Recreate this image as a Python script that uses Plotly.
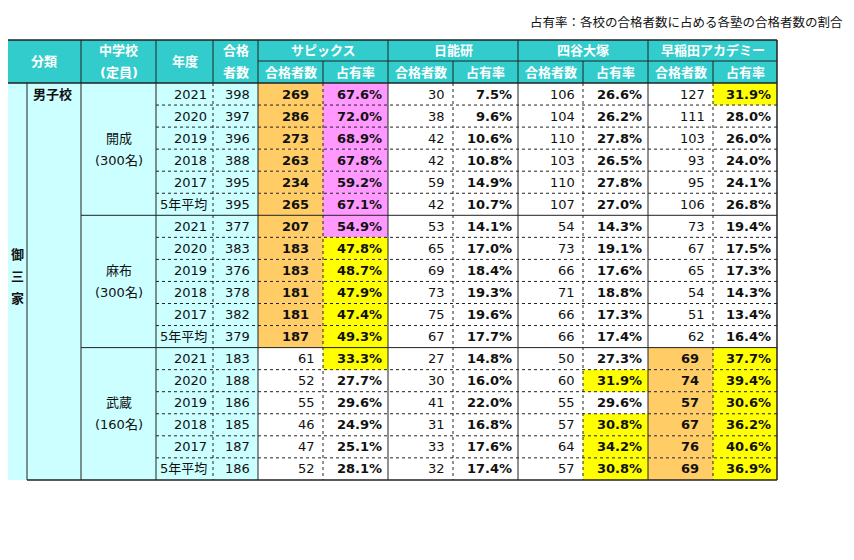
import plotly.graph_objects as go

schools = ["開成", "麻布", "武蔵"]
capacity = ["(300名)", "(300名)", "(160名)"]
years = ["2021", "2020", "2019", "2018", "2017", "5年平均"]
total = [[398, 397, 396, 388, 395, 395], [377, 383, 376, 378, 382, 379], [183, 188, 186, 185, 187, 186]]
juku = ["サピックス", "日能研", "四谷大塚", "早稲田アカデミー"]
cnt = {
    "サピックス": [[269, 286, 273, 263, 234, 265], [207, 183, 183, 181, 181, 187], [61, 52, 55, 46, 47, 52]],
    "日能研": [[30, 38, 42, 42, 59, 42], [53, 65, 69, 73, 75, 67], [27, 30, 41, 31, 33, 32]],
    "四谷大塚": [[106, 104, 110, 103, 110, 107], [54, 73, 66, 71, 66, 66], [50, 60, 55, 57, 64, 57]],
    "早稲田アカデミー": [[127, 111, 103, 93, 95, 106], [73, 67, 65, 54, 51, 62], [69, 74, 57, 67, 76, 69]],
}
rate = {
    "サピックス": [["67.6%", "72.0%", "68.9%", "67.8%", "59.2%", "67.1%"], ["54.9%", "47.8%", "48.7%", "47.9%", "47.4%", "49.3%"], ["33.3%", "27.7%", "29.6%", "24.9%", "25.1%", "28.1%"]],
    "日能研": [["7.5%", "9.6%", "10.6%", "10.8%", "14.9%", "10.7%"], ["14.1%", "17.0%", "18.4%", "19.3%", "19.6%", "17.7%"], ["14.8%", "16.0%", "22.0%", "16.8%", "17.6%", "17.4%"]],
    "四谷大塚": [["26.6%", "26.2%", "27.8%", "26.5%", "27.8%", "27.0%"], ["14.3%", "19.1%", "17.6%", "18.8%", "17.3%", "17.4%"], ["27.3%", "31.9%", "29.6%", "30.8%", "34.2%", "30.8%"]],
    "早稲田アカデミー": [["31.9%", "28.0%", "26.0%", "24.0%", "24.1%", "26.8%"], ["19.4%", "17.5%", "17.3%", "14.3%", "13.4%", "16.4%"], ["37.7%", "39.4%", "30.6%", "36.2%", "40.6%", "36.9%"]],
}

TEAL = "#33CCCC"; CYAN = "#CCFFFF"; ORANGE = "#FFCC66"; PINK = "#FF99FF"; YEL = "#FFFF00"
FONT = "DejaVu Sans, Noto Sans CJK JP"
cx = [7, 27, 81, 156, 213, 258, 323, 388, 453, 518, 583, 648, 713, 777]
H0, H1, B0 = 40, 61, 83
RH = 22.05
NR = 18

shapes = []; ann = []
def rect(x0, y0, x1, y1, fill):
    shapes.append(dict(type="rect", x0=x0, x1=x1, y0=y0, y1=y1, fillcolor=fill, line=dict(width=0), layer="below"))
def line(x0, y0, x1, y1, dash="solid", w=1, color="#222"):
    shapes.append(dict(type="line", x0=x0, x1=x1, y0=y0, y1=y1, line=dict(color=color, width=w, dash=dash)))
def text(x, y, s, anchor="center", bold=False, color="#111", size=13):
    ann.append(dict(x=x, y=y, text=f"<b>{s}</b>" if bold else s, showarrow=False, xanchor=anchor, yanchor="middle",
                    font=dict(family=FONT, size=size, color=color)))

yb = B0 + NR * RH
rect(cx[0], H0, cx[-1], B0, TEAL)
rect(cx[0], B0, cx[5], yb, CYAN)
text(7, 22, "塾の合格実績（2017年度～2021年度）御三家(すべて2月1日受験)", "left", True, "#111", 14)
text(845, 22, "占有率：各校の合格者数に占める各塾の合格者数の割合", "right", False, "#111", 12.5)
W = "white"
text((cx[0] + cx[2]) / 2, (H0 + B0) / 2, "分類", bold=True, color=W)
text((cx[2] + cx[3]) / 2, (H0 + H1) / 2, "中学校", bold=True, color=W)
text((cx[2] + cx[3]) / 2, (H1 + B0) / 2, "(定員)", bold=True, color=W)
text((cx[3] + cx[4]) / 2, (H0 + B0) / 2, "年度", bold=True, color=W)
text((cx[4] + cx[5]) / 2, (H0 + H1) / 2, "合格", bold=True, color=W)
text((cx[4] + cx[5]) / 2, (H1 + B0) / 2, "者数", bold=True, color=W)
for j, name in enumerate(juku):
    a, b, c = cx[5 + 2 * j], cx[6 + 2 * j], cx[7 + 2 * j]
    text((a + c) / 2, (H0 + H1) / 2, name, bold=True, color=W)
    text((a + b) / 2, (H1 + B0) / 2, "合格者数", bold=True, color=W)
    text((b + c) / 2, (H1 + B0) / 2, "占有率", bold=True, color=W)

def hl(jk, s, r, kind):
    if jk == "サピックス":
        if kind == "c":
            return ORANGE if s < 2 else None
        if s == 0 or (s == 1 and r == 0):
            return PINK
        if s == 1 or (s == 2 and r == 0):
            return YEL
    if jk == "四谷大塚" and kind == "r" and s == 2 and r in (1, 3, 4, 5):
        return YEL
    if jk == "早稲田アカデミー":
        if kind == "c" and s == 2:
            return ORANGE
        if kind == "r" and (s == 2 or (s == 0 and r == 0)):
            return YEL
    return None

for s in range(3):
    for r in range(6):
        i = s * 6 + r
        y0 = B0 + i * RH; y1 = y0 + RH; ym = (y0 + y1) / 2
        if r == 5:
            text(cx[3] + 2, ym, years[r], "left")
        else:
            text(cx[4] - 4, ym, years[r], "right")
        text(cx[5] - 6, ym, str(total[s][r]), "right")
        for j, jk in enumerate(juku):
            a, b, c = cx[5 + 2 * j], cx[6 + 2 * j], cx[7 + 2 * j]
            fc = hl(jk, s, r, "c"); fr = hl(jk, s, r, "r")
            if fc: rect(a, y0, b, y1, fc)
            if fr: rect(b, y0, c, y1, fr)
            text(b - 12 if fc else b - 6, ym, str(cnt[jk][s][r]), "right", bold=bool(fc))
            text(c - 4, ym, rate[jk][s][r], "right", bold=True)
        if r < 5:
            line(cx[3], y1, cx[-1], y1, "dot", 1)
    ys = B0 + s * 6 * RH
    text((cx[2] + cx[3]) / 2, ys + 2.5 * RH, schools[s])
    text((cx[2] + cx[3]) / 2, ys + 3.5 * RH, capacity[s])
    if s > 0:
        line(cx[2], ys, cx[-1], ys)
text(cx[1] + 4, B0 + RH / 2, "男子校", "left", True)
for k, ch in enumerate("御三家"):
    text((cx[0] + cx[1]) / 2, B0 + 7.8 * RH + k * 22, ch, bold=True)

line(cx[0], H0, cx[-1], H0, w=1.5)
line(cx[5], H1, cx[-1], H1)
line(cx[0], B0, cx[-1], B0, w=1.5)
line(cx[1], yb, cx[-1], yb, w=1.5)
for x in [cx[0], cx[-1]]:
    line(x, H0, x, yb, w=1.5)
for x in [cx[2], cx[3], cx[4], cx[5], cx[7], cx[9], cx[11]]:
    line(x, H0, x, B0)
for x in [cx[6], cx[8], cx[10], cx[12]]:
    line(x, H1, x, B0)
line(cx[1], B0, cx[1], yb)
line(cx[2], B0, cx[2], yb)
line(cx[3], B0, cx[3], yb)
line(cx[4], B0, cx[4], yb, "dot")
for x in [cx[5], cx[7], cx[9], cx[11]]:
    line(x, B0, x, yb)
for x in [cx[6], cx[8], cx[10], cx[12]]:
    line(x, B0, x, yb, "dot")

fig = go.Figure()
fig.update_layout(width=854, height=560, margin=dict(l=0, r=0, t=0, b=0),
                  paper_bgcolor="white", plot_bgcolor="white",
                  xaxis=dict(range=[8, 862], visible=False, fixedrange=True),
                  yaxis=dict(range=[568, 8], visible=False, fixedrange=True),
                  shapes=shapes, annotations=ann, showlegend=False)
fig.write_html("out.html")
